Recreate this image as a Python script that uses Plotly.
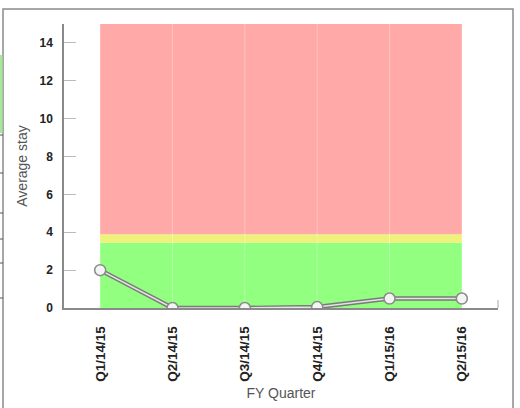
import plotly.graph_objects as go

quarters = ["Q1/14/15", "Q2/14/15", "Q3/14/15", "Q4/14/15", "Q1/15/16", "Q2/15/16"]
avg_stay = [2.0, 0.0, 0.0, 0.05, 0.5, 0.5]
y_ticks = [0, 2, 4, 6, 8, 10, 12, 14]
bands = [  # (low, high, colour)
    (0.0, 3.45, "#92FF80"),
    (3.45, 3.9, "#EEF27A"),
    (3.9, 15.0, "#FFA9A9"),
]

W, H = 520, 408
L, R, T, B = 64, 22, 24, 100
pw, ph = W - L - R, H - T - B

def px(xp):
    return (xp - L) / pw

def py(yp):
    return (H - B - yp) / ph

fig = go.Figure()
fig.add_trace(go.Scatter(x=quarters, y=avg_stay, mode="lines",
                         line=dict(color="#7a7a7a", width=4.5), hoverinfo="skip",
                         showlegend=False))
fig.add_trace(go.Scatter(x=quarters, y=avg_stay, mode="lines+markers",
                         line=dict(color="#e4e4e4", width=1.6),
                         marker=dict(size=11, color="#f4f4f4",
                                     line=dict(color="#8a8a8a", width=1.5)),
                         showlegend=False))

shapes = []
for lo, hi, c in bands:
    shapes.append(dict(type="rect", xref="x", yref="y", x0=0, x1=len(quarters) - 1,
                       y0=lo, y1=hi, fillcolor=c, line=dict(width=0), layer="below"))
for i in range(1, len(quarters) - 1):
    shapes.append(dict(type="line", xref="x", yref="y", x0=i, x1=i, y0=0, y1=15,
                       line=dict(color="rgba(255,255,255,0.3)", width=1), layer="below"))
# outer frame
shapes.append(dict(type="rect", xref="paper", yref="paper",
                   x0=px(3), x1=px(513), y0=py(412), y1=py(9),
                   line=dict(color="#8a8a8a", width=1.5), fillcolor="rgba(0,0,0,0)"))
# left-edge artefact strip
shapes.append(dict(type="rect", xref="paper", yref="paper",
                   x0=px(0), x1=px(2.5), y0=py(133), y1=py(55),
                   line=dict(width=0), fillcolor="#a6e89a"))
for yy in [135, 173, 213, 239, 263, 298]:
    shapes.append(dict(type="line", xref="paper", yref="paper",
                       x0=px(0), x1=px(3), y0=py(yy), y1=py(yy),
                       line=dict(color="#555", width=1)))
# small end tick of x axis
shapes.append(dict(type="line", xref="paper", yref="paper",
                   x0=1, x1=1, y0=0, y1=py(300),
                   line=dict(color="#aaa", width=1)))

fig.update_layout(
    width=W, height=H,
    margin=dict(l=L, r=R, t=T, b=B),
    paper_bgcolor="white", plot_bgcolor="white",
    shapes=shapes,
    font=dict(family="Liberation Sans, Arial, sans-serif"),
    xaxis=dict(type="category", categoryorder="array", categoryarray=quarters,
               range=[-0.5, 5.5], showgrid=False, zeroline=False, automargin=False,
               showline=True, linecolor="#8a8a8a", linewidth=1.5,
               ticks="", tickangle=-90, ticklabelstandoff=11,
               tickfont=dict(size=13.5, color="#222", family="Liberation Sans, Arial",
                             weight="bold"),
               title=dict(text="FY Quarter", font=dict(size=14, color="#555"), standoff=8)),
    yaxis=dict(range=[0, 15], tickvals=y_ticks, showgrid=False, zeroline=False,
               automargin=False,
               showline=True, linecolor="#8a8a8a", linewidth=1.5,
               ticks="inside", ticklen=12, tickcolor="#bbb", tickwidth=1,
               tickfont=dict(size=12, color="#222", family="Liberation Sans, Arial",
                             weight="bold"),
               ticklabelstandoff=7,
               title=dict(text="Average stay", font=dict(size=14, color="#555"), standoff=9)),
)

fig.write_html("out.html")
